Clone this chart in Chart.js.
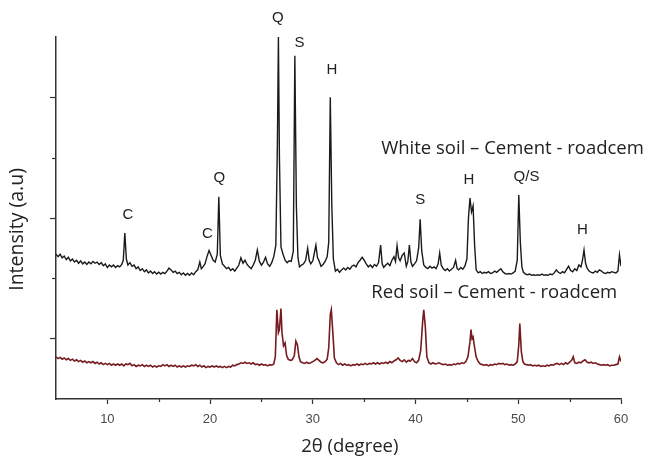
<!DOCTYPE html>
<html>
<head>
<meta charset="utf-8">
<script src="https://cdn.jsdelivr.net/npm/chart.js@4.4.1/dist/chart.umd.min.js"></script>
<style>
  html, body { margin: 0; padding: 0; background: #fff; }
  #wrap { width: 647px; height: 460px; }
</style>
</head>
<body>
<div id="wrap"><canvas id="xrd" width="647" height="460"></canvas></div>
<script>
// 2theta / intensity pairs
const whitePattern = [
  [5.0, 2.40], [5.2, 2.36], [5.4, 2.40], [5.6, 2.34], [5.8, 2.37], [6.0, 2.31], [6.2, 2.35], [6.4, 2.29],
  [6.6, 2.32], [6.8, 2.27], [7.0, 2.30], [7.2, 2.25], [7.4, 2.29], [7.6, 2.24], [7.8, 2.27], [8.0, 2.23],
  [8.2, 2.27], [8.4, 2.24], [8.6, 2.28], [8.8, 2.25], [9.0, 2.27], [9.2, 2.23], [9.4, 2.26], [9.6, 2.21],
  [9.8, 2.24], [10.0, 2.18], [10.2, 2.22], [10.4, 2.19], [10.6, 2.22], [10.8, 2.18], [11.0, 2.21], [11.2, 2.19],
  [11.4, 2.23], [11.55, 2.30], [11.7, 2.75], [11.85, 2.32], [12.0, 2.22], [12.2, 2.26], [12.4, 2.20], [12.6, 2.22],
  [12.8, 2.16], [13.0, 2.19], [13.2, 2.13], [13.4, 2.16], [13.6, 2.11], [13.8, 2.14], [14.0, 2.09], [14.2, 2.12],
  [14.4, 2.08], [14.6, 2.11], [14.8, 2.07], [15.0, 2.10], [15.2, 2.07], [15.4, 2.10], [15.6, 2.08], [15.8, 2.12],
  [16.0, 2.17], [16.2, 2.14], [16.4, 2.10], [16.6, 2.12], [16.8, 2.08], [17.0, 2.10], [17.2, 2.06], [17.4, 2.09],
  [17.6, 2.05], [17.8, 2.08], [18.0, 2.05], [18.2, 2.09], [18.4, 2.06], [18.6, 2.11], [18.8, 2.14], [19.0, 2.27],
  [19.15, 2.16], [19.3, 2.19], [19.5, 2.24], [19.7, 2.36], [19.9, 2.46], [20.1, 2.38], [20.3, 2.30], [20.5, 2.27],
  [20.7, 2.40], [20.85, 3.35], [21.0, 2.38], [21.2, 2.24], [21.4, 2.20], [21.6, 2.16], [21.8, 2.18], [22.0, 2.13],
  [22.2, 2.16], [22.4, 2.12], [22.6, 2.17], [22.8, 2.22], [23.0, 2.34], [23.2, 2.25], [23.4, 2.30], [23.6, 2.23],
  [23.8, 2.19], [24.0, 2.16], [24.2, 2.22], [24.4, 2.30], [24.6, 2.47], [24.8, 2.28], [25.0, 2.22], [25.2, 2.27],
  [25.4, 2.35], [25.6, 2.24], [25.8, 2.20], [26.0, 2.26], [26.2, 2.36], [26.4, 2.55], [26.55, 4.20], [26.65, 6.00],
  [26.75, 4.00], [26.9, 2.52], [27.1, 2.40], [27.3, 2.30], [27.5, 2.26], [27.7, 2.29], [27.9, 2.28], [28.1, 2.45],
  [28.25, 5.69], [28.4, 3.20], [28.55, 2.35], [28.7, 2.19], [28.9, 2.22], [29.1, 2.24], [29.3, 2.30], [29.5, 2.50],
  [29.65, 2.30], [29.8, 2.24], [30.0, 2.29], [30.15, 2.42], [30.3, 2.55], [30.45, 2.35], [30.6, 2.29], [30.8, 2.20],
  [31.0, 2.23], [31.2, 2.28], [31.4, 2.36], [31.55, 2.60], [31.7, 5.00], [31.85, 3.20], [32.0, 2.32], [32.2, 2.12],
  [32.4, 2.15], [32.6, 2.10], [32.8, 2.14], [33.0, 2.17], [33.2, 2.14], [33.4, 2.18], [33.6, 2.15], [33.8, 2.20],
  [34.0, 2.22], [34.2, 2.19], [34.4, 2.26], [34.6, 2.30], [34.8, 2.35], [35.0, 2.30], [35.2, 2.24], [35.4, 2.19],
  [35.6, 2.22], [35.8, 2.18], [36.0, 2.23], [36.2, 2.20], [36.4, 2.26], [36.6, 2.55], [36.75, 2.24], [36.9, 2.18],
  [37.1, 2.22], [37.3, 2.25], [37.5, 2.21], [37.7, 2.30], [37.9, 2.36], [38.05, 2.28], [38.2, 2.54], [38.35, 2.34],
  [38.5, 2.29], [38.7, 2.38], [38.9, 2.42], [39.1, 2.20], [39.25, 2.28], [39.4, 2.55], [39.55, 2.27], [39.7, 2.20],
  [39.9, 2.24], [40.1, 2.29], [40.3, 2.50], [40.45, 2.98], [40.6, 2.46], [40.8, 2.22], [41.0, 2.18], [41.2, 2.16],
  [41.4, 2.20], [41.6, 2.17], [41.8, 2.19], [42.0, 2.16], [42.2, 2.24], [42.35, 2.42], [42.5, 2.22], [42.7, 2.16],
  [42.9, 2.13], [43.1, 2.16], [43.3, 2.12], [43.5, 2.15], [43.7, 2.18], [43.9, 2.30], [44.05, 2.16], [44.2, 2.14],
  [44.4, 2.18], [44.6, 2.15], [44.8, 2.20], [45.0, 2.32], [45.15, 3.00], [45.3, 3.33], [45.45, 3.10], [45.6, 3.20],
  [45.75, 2.55], [45.9, 2.14], [46.1, 2.09], [46.3, 2.11], [46.5, 2.08], [46.7, 2.10], [46.9, 2.09], [47.1, 2.11],
  [47.3, 2.08], [47.5, 2.09], [47.7, 2.12], [47.9, 2.10], [48.1, 2.13], [48.3, 2.16], [48.5, 2.11], [48.7, 2.08],
  [48.9, 2.07], [49.1, 2.08], [49.3, 2.07], [49.5, 2.09], [49.7, 2.12], [49.9, 2.30], [50.05, 3.38], [50.2, 2.60],
  [50.35, 2.19], [50.5, 2.10], [50.7, 2.07], [50.9, 2.06], [51.1, 2.07], [51.3, 2.05], [51.5, 2.06], [51.7, 2.05],
  [51.9, 2.06], [52.1, 2.05], [52.3, 2.07], [52.5, 2.05], [52.7, 2.06], [52.9, 2.05], [53.1, 2.07], [53.3, 2.06],
  [53.5, 2.09], [53.7, 2.14], [53.9, 2.10], [54.1, 2.08], [54.3, 2.11], [54.5, 2.09], [54.7, 2.15], [54.9, 2.20],
  [55.1, 2.13], [55.3, 2.11], [55.5, 2.16], [55.7, 2.13], [55.9, 2.22], [56.1, 2.19], [56.25, 2.30], [56.4, 2.47],
  [56.55, 2.25], [56.7, 2.17], [56.9, 2.12], [57.1, 2.10], [57.3, 2.09], [57.5, 2.12], [57.7, 2.10], [57.9, 2.14],
  [58.1, 2.12], [58.3, 2.09], [58.5, 2.08], [58.7, 2.10], [58.9, 2.09], [59.1, 2.11], [59.3, 2.10], [59.5, 2.09],
  [59.7, 2.12], [59.85, 2.39], [60.0, 2.20]
];

const redPattern = [
  [5.0, 0.70], [5.2, 0.67], [5.4, 0.69], [5.6, 0.66], [5.8, 0.68], [6.0, 0.65], [6.2, 0.67], [6.4, 0.64],
  [6.6, 0.66], [6.8, 0.63], [7.0, 0.65], [7.2, 0.62], [7.4, 0.64], [7.6, 0.61], [7.8, 0.63], [8.0, 0.60],
  [8.2, 0.62], [8.4, 0.60], [8.6, 0.62], [8.8, 0.59], [9.0, 0.61], [9.2, 0.58], [9.4, 0.60], [9.6, 0.57],
  [9.8, 0.59], [10.0, 0.57], [10.2, 0.59], [10.4, 0.56], [10.6, 0.58], [10.8, 0.56], [11.0, 0.58], [11.2, 0.56],
  [11.4, 0.58], [11.6, 0.55], [11.8, 0.58], [12.0, 0.57], [12.2, 0.59], [12.4, 0.55], [12.6, 0.57], [12.8, 0.54],
  [13.0, 0.56], [13.2, 0.55], [13.4, 0.57], [13.6, 0.54], [13.8, 0.56], [14.0, 0.54], [14.2, 0.56], [14.4, 0.53],
  [14.6, 0.55], [14.8, 0.53], [15.0, 0.55], [15.2, 0.54], [15.4, 0.57], [15.6, 0.55], [15.8, 0.57], [16.0, 0.54],
  [16.2, 0.56], [16.4, 0.54], [16.6, 0.56], [16.8, 0.53], [17.0, 0.55], [17.2, 0.53], [17.4, 0.55], [17.6, 0.53],
  [17.8, 0.55], [18.0, 0.54], [18.2, 0.56], [18.4, 0.55], [18.6, 0.57], [18.8, 0.54], [19.0, 0.56], [19.2, 0.53],
  [19.4, 0.55], [19.6, 0.52], [19.8, 0.54], [20.0, 0.53], [20.2, 0.55], [20.4, 0.53], [20.6, 0.55], [20.8, 0.53],
  [21.0, 0.54], [21.2, 0.52], [21.4, 0.54], [21.6, 0.52], [21.8, 0.54], [22.0, 0.53], [22.2, 0.56], [22.4, 0.55],
  [22.6, 0.57], [22.8, 0.58], [23.0, 0.60], [23.2, 0.59], [23.4, 0.61], [23.6, 0.59], [23.8, 0.60], [24.0, 0.58],
  [24.2, 0.60], [24.4, 0.57], [24.6, 0.58], [24.8, 0.56], [25.0, 0.58], [25.2, 0.56], [25.4, 0.57], [25.6, 0.55],
  [25.8, 0.57], [26.0, 0.56], [26.2, 0.58], [26.35, 0.70], [26.5, 1.48], [26.65, 1.10], [26.75, 1.15], [26.9, 1.50],
  [27.0, 1.10], [27.15, 0.88], [27.3, 0.93], [27.45, 0.72], [27.6, 0.66], [27.8, 0.64], [28.0, 0.65], [28.2, 0.72],
  [28.35, 0.96], [28.5, 0.90], [28.65, 0.70], [28.8, 0.62], [29.0, 0.60], [29.2, 0.59], [29.4, 0.61], [29.6, 0.59],
  [29.8, 0.60], [30.0, 0.62], [30.2, 0.64], [30.4, 0.67], [30.6, 0.64], [30.8, 0.61], [31.0, 0.60], [31.2, 0.62],
  [31.4, 0.66], [31.55, 0.85], [31.7, 1.40], [31.8, 1.48], [31.95, 1.10], [32.1, 0.68], [32.3, 0.60], [32.5, 0.57],
  [32.7, 0.59], [32.9, 0.56], [33.1, 0.58], [33.3, 0.56], [33.5, 0.57], [33.7, 0.55], [33.9, 0.57], [34.1, 0.56],
  [34.3, 0.58], [34.5, 0.56], [34.7, 0.58], [34.9, 0.57], [35.1, 0.59], [35.3, 0.57], [35.5, 0.59], [35.7, 0.58],
  [35.9, 0.60], [36.1, 0.58], [36.3, 0.60], [36.5, 0.58], [36.7, 0.60], [36.9, 0.59], [37.1, 0.61], [37.3, 0.59],
  [37.5, 0.62], [37.7, 0.60], [37.9, 0.63], [38.1, 0.65], [38.3, 0.68], [38.5, 0.64], [38.7, 0.62], [38.9, 0.65],
  [39.1, 0.61], [39.3, 0.64], [39.5, 0.63], [39.7, 0.67], [39.9, 0.62], [40.1, 0.60], [40.3, 0.64], [40.5, 0.80],
  [40.7, 1.30], [40.8, 1.48], [40.95, 1.20], [41.1, 0.70], [41.3, 0.60], [41.5, 0.58], [41.7, 0.60], [41.9, 0.58],
  [42.1, 0.59], [42.3, 0.60], [42.5, 0.58], [42.7, 0.57], [42.9, 0.58], [43.1, 0.56], [43.3, 0.57], [43.5, 0.56],
  [43.7, 0.58], [43.9, 0.57], [44.1, 0.59], [44.3, 0.58], [44.5, 0.60], [44.7, 0.59], [44.9, 0.62], [45.1, 0.70],
  [45.3, 0.95], [45.4, 1.15], [45.5, 1.00], [45.6, 1.03], [45.75, 0.85], [45.9, 0.70], [46.1, 0.62], [46.3, 0.58],
  [46.5, 0.57], [46.7, 0.56], [46.9, 0.57], [47.1, 0.55], [47.3, 0.57], [47.5, 0.56], [47.7, 0.58], [47.9, 0.57],
  [48.1, 0.59], [48.3, 0.58], [48.5, 0.59], [48.7, 0.57], [48.9, 0.58], [49.1, 0.56], [49.3, 0.57], [49.5, 0.56],
  [49.7, 0.58], [49.9, 0.62], [50.05, 0.90], [50.15, 1.25], [50.3, 0.78], [50.45, 0.62], [50.6, 0.58], [50.8, 0.57],
  [51.0, 0.56], [51.2, 0.57], [51.4, 0.55], [51.6, 0.56], [51.8, 0.55], [52.0, 0.56], [52.2, 0.54], [52.4, 0.55],
  [52.6, 0.54], [52.8, 0.56], [53.0, 0.55], [53.2, 0.57], [53.4, 0.56], [53.6, 0.58], [53.8, 0.59], [54.0, 0.57],
  [54.2, 0.59], [54.4, 0.57], [54.6, 0.60], [54.8, 0.58], [55.0, 0.61], [55.2, 0.64], [55.35, 0.70], [55.5, 0.60],
  [55.7, 0.59], [55.9, 0.61], [56.1, 0.60], [56.3, 0.63], [56.5, 0.65], [56.7, 0.61], [56.9, 0.60], [57.1, 0.61],
  [57.3, 0.59], [57.5, 0.60], [57.7, 0.58], [57.9, 0.57], [58.1, 0.56], [58.3, 0.57], [58.5, 0.56], [58.7, 0.57],
  [58.9, 0.55], [59.1, 0.56], [59.3, 0.56], [59.5, 0.57], [59.7, 0.58], [59.85, 0.70], [60.0, 0.62]
];

const seriesNames = ["White soil \u2013 Cement - roadcem", "Red soil \u2013 Cement - roadcem"];
const seriesNameX = [36.65, 35.7];
const seriesNameY = [4.14, 1.76];

// phase marks: C calcite, Q quartz, S, H
const peakLabels = ["C", "C", "Q", "Q", "S", "H", "S", "H", "Q/S", "H"];
const peakLabelX = [12.0, 19.75, 20.9, 26.6, 28.7, 31.85, 40.45, 45.2, 50.8, 56.25];
const peakLabelY = [3.05, 2.73, 3.66, 6.32, 5.90, 5.45, 3.30, 3.63, 3.68, 2.80];

const xMajorTicks = [10, 20, 30, 40, 50, 60];
const xMinorTicks = [15, 25, 35, 45, 55];
const yMajorTicks = [1, 3, 5];
const yMinorTicks = [2, 4];

const xTitle = "2\u03b8 (degree)";
const yTitle = "Intensity (a.u)";

const toPoints = (rows) => rows.map(([x, y]) => ({ x: x, y: y }));

// minor ticks, axis titles and the text that sits on the plot
const overlay = {
  id: "overlay",
  afterDraw(chart) {
    const { ctx, scales: { x, y } } = chart;
    ctx.save();
    ctx.strokeStyle = "#333";
    ctx.lineWidth = 1.2;
    xMinorTicks.forEach((v) => {
      const px = Math.round(x.getPixelForValue(v)) + 0.5;
      ctx.beginPath();
      ctx.moveTo(px, x.top);
      ctx.lineTo(px, x.top + 3);
      ctx.stroke();
    });
    yMinorTicks.forEach((v) => {
      const py = Math.round(y.getPixelForValue(v)) + 0.5;
      ctx.beginPath();
      ctx.moveTo(y.right, py);
      ctx.lineTo(y.right - 4, py);
      ctx.stroke();
    });

    ctx.fillStyle = "#222";
    ctx.textBaseline = "middle";
    ctx.textAlign = "center";
    ctx.font = '15px "Liberation Sans"';
    peakLabels.forEach((t, i) => {
      ctx.fillText(t, x.getPixelForValue(peakLabelX[i]), y.getPixelForValue(peakLabelY[i]));
    });

    ctx.textAlign = "left";
    ctx.font = '18.5px "Open Sans"';
    seriesNames.forEach((t, i) => {
      ctx.fillText(t, x.getPixelForValue(seriesNameX[i]), y.getPixelForValue(seriesNameY[i]));
    });

    // axis titles
    ctx.textAlign = "center";
    ctx.font = '18.5px "Open Sans"';
    ctx.fillText(xTitle, x.getPixelForValue(33.6), x.bottom - 13);
    ctx.translate(17, y.getPixelForValue(2.81));
    ctx.rotate(-Math.PI / 2);
    ctx.font = '19.5px "Open Sans"';
    ctx.fillText(yTitle, 0, 0);
    ctx.restore();
  }
};

new Chart(document.getElementById("xrd"), {
  type: "line",
  data: {
    datasets: [
      {
        label: seriesNames[0],
        data: toPoints(whitePattern),
        borderColor: "#1a1a1a",
        borderWidth: 1.4,
        pointRadius: 0,
        tension: 0
      },
      {
        label: seriesNames[1],
        data: toPoints(redPattern),
        borderColor: "#761b20",
        borderWidth: 1.6,
        pointRadius: 0,
        tension: 0
      }
    ]
  },
  options: {
    responsive: false,
    animation: false,
    devicePixelRatio: 1,
    layout: { padding: { top: 37, right: 26, left: 0, bottom: 0 } },
    plugins: {
      legend: { display: false },
      tooltip: { enabled: false }
    },
    scales: {
      x: {
        type: "linear",
        min: 5,
        max: 60,
        afterBuildTicks: (scale) => { scale.ticks = xMajorTicks.map((v) => ({ value: v })); },
        afterFit: (scale) => { scale.height = 61; },
        grid: { drawOnChartArea: false, tickLength: 5, color: "#333", tickWidth: 1.2 },
        border: { color: "#333", width: 1.5 },
        ticks: {
          color: "#4a4a4a",
          padding: 8,
          maxRotation: 0,
          font: { family: "Liberation Sans", size: 13 }
        }
      },
      y: {
        type: "linear",
        min: 0,
        max: 6,
        afterBuildTicks: (scale) => { scale.ticks = yMajorTicks.map((v) => ({ value: v })); },
        afterFit: (scale) => { scale.width = 56; },
        grid: { drawOnChartArea: false, tickLength: 6, color: "#333", tickWidth: 1.2 },
        border: { color: "#333", width: 1.5 },
        ticks: { display: false }
      }
    }
  },
  plugins: [overlay]
});
</script>
</body>
</html>
